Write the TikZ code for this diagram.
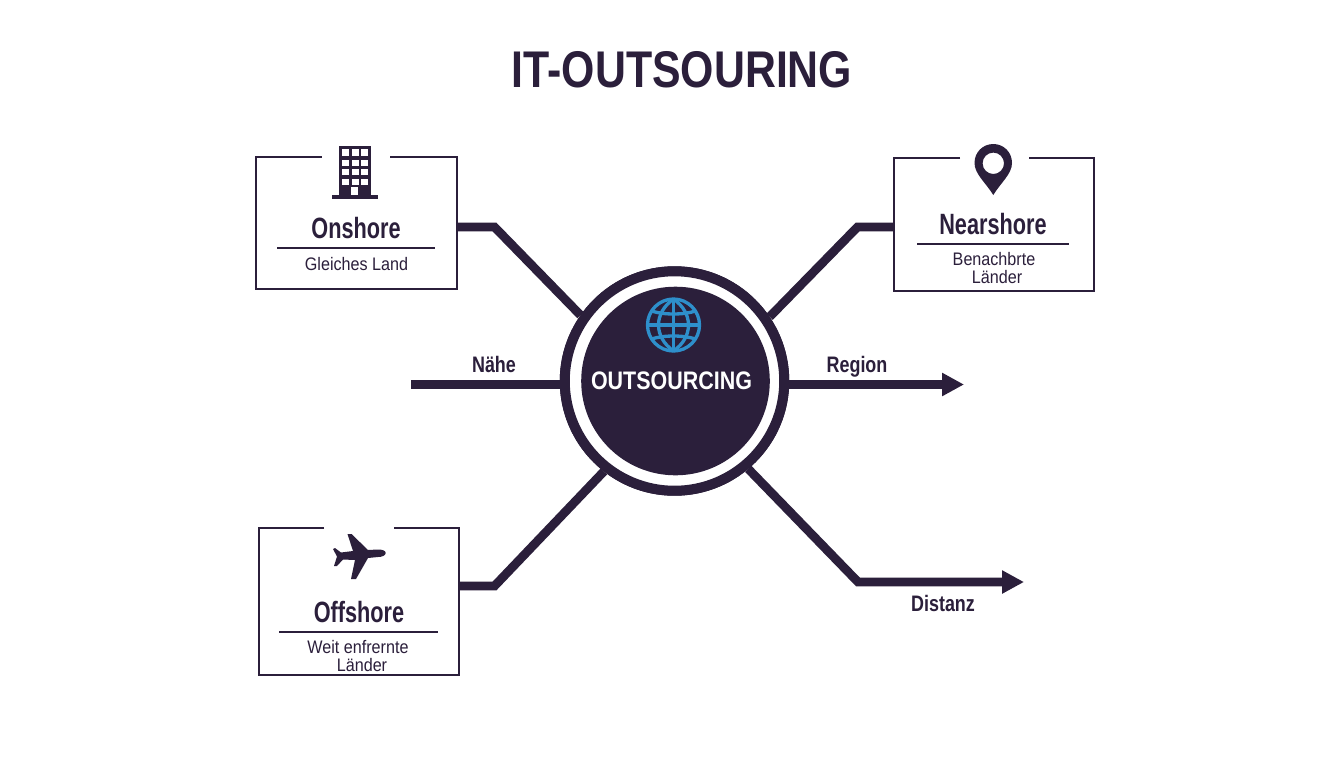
\documentclass[tikz,border=0pt]{standalone}
\usepackage{fontspec}
\setmainfont{Liberation Sans}
\usetikzlibrary{arrows.meta,calc}
\definecolor{ink}{HTML}{2B1F3B}
\definecolor{globe}{HTML}{2E8FCB}
\tikzset{x=0.75pt,y=-0.75pt,
 boxline/.style={draw=ink,line width=1.5pt},
 rule/.style={draw=ink,line width=1.1pt},
 conn/.style={draw=ink,line width=6.6pt,line join=miter},
 heading/.style={font=\bfseries\fontsize{22}{22}\selectfont,text=ink,inner sep=0pt,anchor=base,xscale=.74},
 subtext/.style={font=\fontsize{13.6}{14}\selectfont,text=ink,inner sep=0pt,anchor=base,xscale=.89},
 axislabel/.style={font=\bfseries\fontsize{16.8}{17}\selectfont,text=ink,inner sep=0pt,anchor=base,xscale=.8},
 arrowline/.style={conn,-{Triangle[length=16.5pt,width=16.5pt]}}}
\begin{document}
\begin{tikzpicture}
\useasboundingbox (0,0) rectangle (1344,768);
\fill[white] (0,0) rectangle (1344,768);
\node[font=\bfseries\fontsize{38.7}{40}\selectfont,text=ink,draw=ink,line width=.5pt,draw opacity=0,inner sep=0pt,anchor=base,xscale=.83] (title) at (682,87.5) {IT-OUTSOURING};

% free ends and corners of the connectors
\coordinate (onA) at (456,227); \coordinate (onB) at (494.5,227);
\coordinate (neA) at (894,227); \coordinate (neB) at (857.5,227);
\coordinate (ofA) at (460,586); \coordinate (ofB) at (494.5,586);
\coordinate (diB) at (858,582); \coordinate (diE) at (1024,582);
\coordinate (reE) at (964,384.5); \coordinate (naE) at (411,384.5);

% hub ring, defined first so the connectors can name it
\node[circle,draw=ink,line width=7.5pt,fill=white,minimum size=164.6pt,inner sep=0pt] (hubring) at (674.5,381) {};

\draw[conn] (onA) -- (onB) -- (hubring.145);
\draw[conn] (neA) -- (neB) -- (hubring.34);
\draw[conn] (ofA) -- (ofB) -- (hubring.232);
\draw[arrowline] (hubring.310) -- (diB) -- (diE);
\draw[arrowline] (hubring.east |- reE) -- (reE);
\draw[conn] (naE) -- (hubring.west |- naE);

% hub redrawn on top of the connector ends
\node[circle,draw=ink,line width=7.5pt,fill=white,minimum size=164.6pt,inner sep=0pt] (hubtop) at (674.5,381) {};
\fill[ink] (675.5,381) circle[radius=94.3];
\node[font=\bfseries\fontsize{19}{19}\selectfont,text=white,inner sep=0pt,anchor=base,xscale=.847] (hub) at (671.5,389) {OUTSOURCING};

% globe
\begin{scope}[shift={(673.5,325)},draw=globe,line width=2.5pt]
\draw (0,0) circle[radius=26];
\draw (0,-26) -- (0,26);
\draw (-26,0) -- (26,0);
\draw (0,-26) .. controls (-20,-12) and (-20,12) .. (0,26);
\draw (0,-26) .. controls (20,-12) and (20,12) .. (0,26);
\draw (-22,-14) .. controls (-10,-10) and (10,-10) .. (22,-14);
\draw (-22,14) .. controls (-10,10) and (10,10) .. (22,14);
\end{scope}

\node[axislabel] (naehe) at (494,372) {Nähe};
\node[axislabel] (region) at (857,372) {Region};
\node[axislabel] (distanz) at (943,611) {Distanz};

% Onshore
\draw[boxline] (321.5,157) -- (256,157) -- (256,289) -- (457,289) -- (457,157) -- (390,157);
\fill[ink] (339,146) rectangle (371,195);
\fill[ink] (332,195) rectangle (378,198.5);
\foreach \r/\ya/\yb in {0/149.3/155.7,1/159.5/165.7,2/169.3/175.3,3/178.7/184.5}
 \foreach \xa in {342,351.7,361.3}
  \fill[white] (\xa,\ya) rectangle ++(7,\yb-\ya);
\fill[white] (351,187.3) rectangle (358.3,195);
\node[heading] (on) at (356,238) {Onshore};
\draw[rule] (277,248) -- (434.5,248);
\node[subtext] (onsub) at (356.5,270.5) {Gleiches Land};

% Nearshore
\draw[boxline] (960,158) -- (894,158) -- (894,291) -- (1094,291) -- (1094,158) -- (1029,158);
\fill[ink,even odd rule] (993.3,195) .. controls (986,183) and (974.5,174) .. (974.5,163)
 .. controls (974.5,152) and (983,144) .. (993.3,144)
 .. controls (1003.5,144) and (1012,152) .. (1012,163)
 .. controls (1012,174) and (1000.5,183) .. (993.3,195) -- cycle
 (993.3,163.3) circle[radius=10.7];
\node[heading] (ne) at (993,234) {Nearshore};
\draw[rule] (917,244) -- (1069,244);
\node[subtext] (nesub) at (994,265.5) {Benachbrte};
\node[subtext] (nesubb) at (997,283.5) {Länder};

% Offshore
\draw[boxline] (324,528) -- (259,528) -- (259,675) -- (459,675) -- (459,528) -- (394,528);
\fill[ink] (385.7,553) .. controls (385.7,550.5) and (382,549.5) .. (378,549.5)
 -- (368,550) -- (351.5,534) -- (347.5,534) -- (353,551) -- (341,552.5) -- (335,548) -- (333,549)
 -- (337,556.5) -- (334,566) -- (337,566) -- (343,559.5) -- (355,560) -- (351,579) -- (356,579)
 -- (368,558) -- (378,557) .. controls (382,557) and (385.7,555.5) .. (385.7,553) -- cycle;
\node[heading] (of) at (359,622) {Offshore};
\draw[rule] (279,632) -- (438,632);
\node[subtext] (ofsub) at (358,653) {Weit enfrernte};
\node[subtext] (ofsubb) at (362,671) {Länder};
\end{tikzpicture}
\end{document}
